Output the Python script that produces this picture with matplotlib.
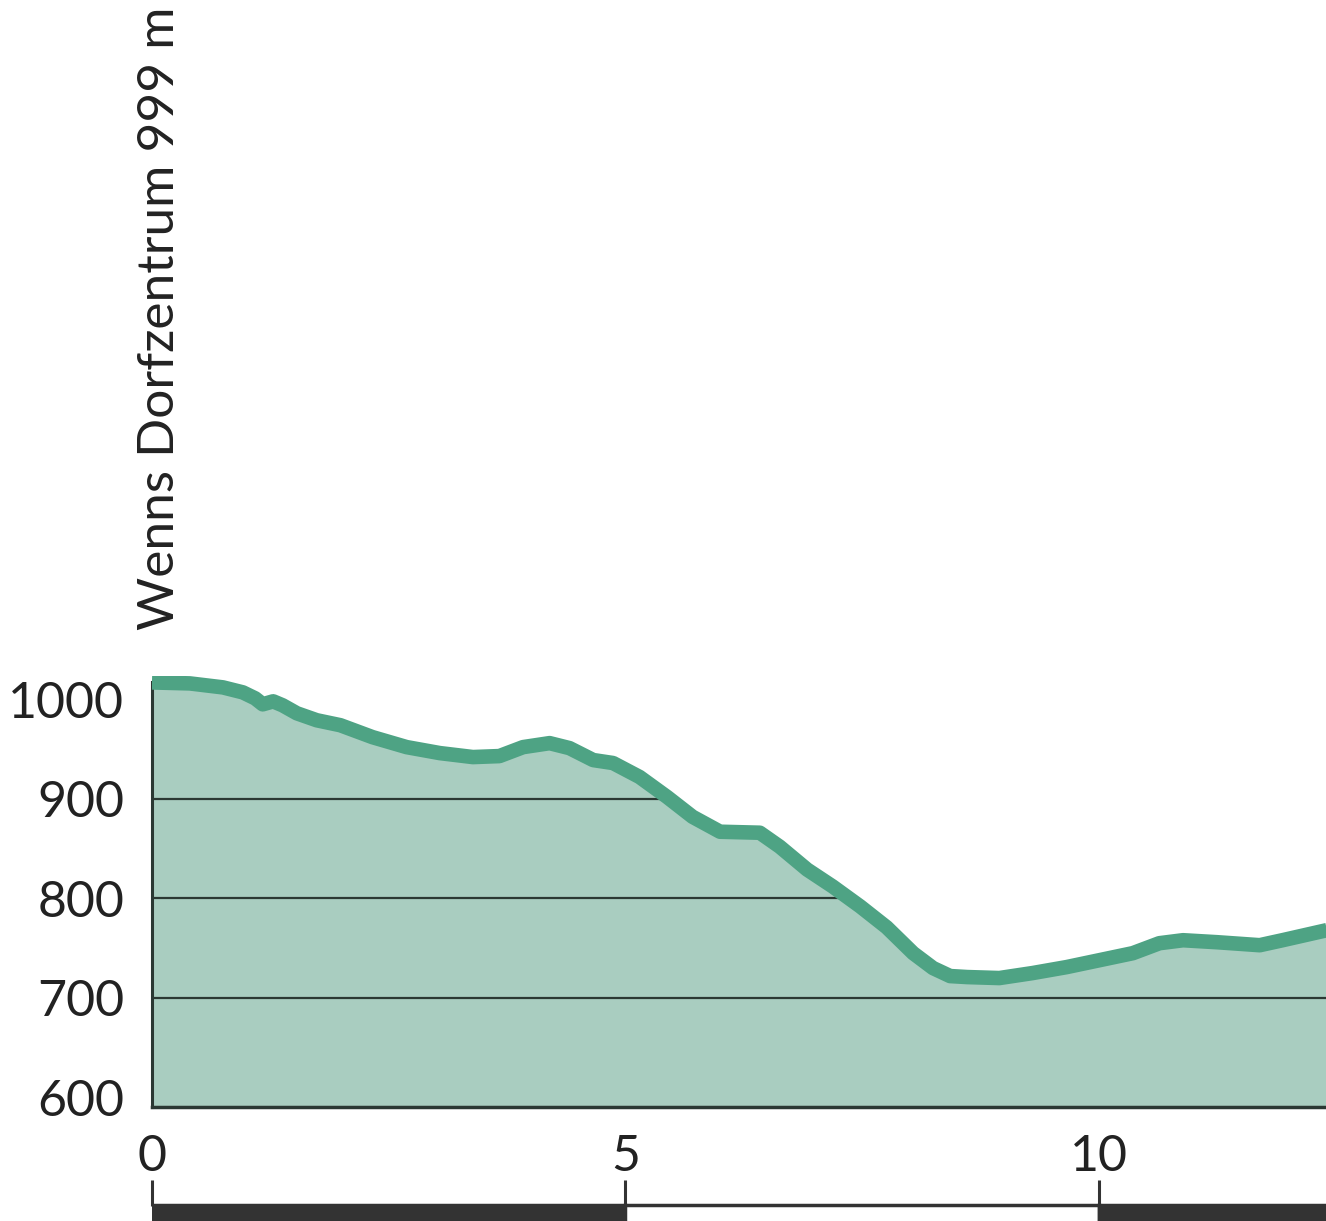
# Elevation profile: Wenns Dorfzentrum

import numpy as np
import matplotlib.pyplot as plt

plt.rcParams['font.family'] = ['Lato', 'DejaVu Sans']

# Distance (km) and elevation (m) read from the profile
distance = [0.0, 0.40, 0.75, 0.96, 1.09, 1.17, 1.28, 1.38, 1.53, 1.74, 1.99,
            2.33, 2.69, 3.04, 3.39, 3.67, 3.92, 4.20, 4.41, 4.66, 4.87, 5.15,
            5.44, 5.71, 6.00, 6.42, 6.63, 6.92, 7.19, 7.48, 7.76, 8.04, 8.25,
            8.43, 8.61, 8.95, 9.30, 9.66, 10.01, 10.36, 10.64, 10.89, 11.25,
            11.70, 11.94, 12.45]
elevation = [1017, 1016, 1012, 1007, 1001, 995, 998, 994, 986, 979, 974,
             962, 952, 946, 942, 943, 952, 956, 951, 939, 936, 922,
             902, 882, 867, 866, 852, 829, 812, 792, 771, 745, 730,
             722, 721, 720, 725, 731, 738, 745, 755, 758, 756,
             753, 758, 769]

y_ticks = [600, 700, 800, 900, 1000]
grid_levels = [700, 800, 900]
scale_ticks = [0, 5, 10]
scale_labels = ['0', '5', '10']
scale_segments = [0, 5, 10]
scale_colors = ['#333333', 'white', '#333333']
start_label = 'Wenns Dorfzentrum 999 m'

fill_color = '#a9cdc0'
line_color = '#4ea384'
dark = '#2b3833'

fig = plt.figure(figsize=(13.26, 12.21), dpi=100)
ax = fig.add_axes([0.1146, 0.0934, 0.8854, 0.353])

poly = ax.fill_between(distance, 500, elevation, color=fill_color, lw=0, zorder=1)
ax.plot(distance, elevation, color=line_color, lw=10.5, solid_capstyle='butt',
        solid_joinstyle='round', zorder=3)

# grid lines only under the profile
for lev in grid_levels:
    ln, = ax.plot([0, 13], [lev, lev], color=dark, lw=1.6, zorder=2)
    ln.set_clip_path(poly.get_paths()[0], ax.transData)

ax.set_xlim(0, 12.4)
ax.set_ylim(590.5, 1023.5)
ax.set_yticks(y_ticks)
ax.set_yticklabels([str(v) for v in y_ticks], fontsize=36, color='#222222')
ax.tick_params(axis='y', length=0, pad=20)
ax.set_xticks([])
for s in ['top', 'right']:
    ax.spines[s].set_visible(False)
ax.spines['left'].set_color(dark)
ax.spines['left'].set_linewidth(2.2)
ax.spines['left'].set_bounds(590.5, elevation[0])
ax.spines['bottom'].set_color(dark)
ax.spines['bottom'].set_linewidth(2.5)

# scale bar below the profile
ax2 = fig.add_axes([0.1146, 0.0, 0.8854, 0.0336])
ax2.bar(scale_segments, 0.6, width=5, bottom=-0.21, align='edge',
        color=scale_colors, edgecolor='#333333', lw=2.5)
ax2.set_xlim(0, 12.4)
ax2.set_ylim(0, 1)
ax2.xaxis.tick_top()
ax2.set_xticks(scale_ticks)
ax2.set_xticklabels(scale_labels, fontsize=36, color='#222222')
ax2.tick_params(axis='x', direction='in', length=19, width=2.2, color='#333333', pad=0)
ax2.set_yticks([])
for s in ax2.spines.values():
    s.set_visible(False)
ax2.patch.set_visible(False)

fig.text(0.1206, 0.4840, start_label, rotation=90, ha='center', va='bottom',
         fontsize=37, color='#222222')

fig.savefig('out.png', dpi=100)
